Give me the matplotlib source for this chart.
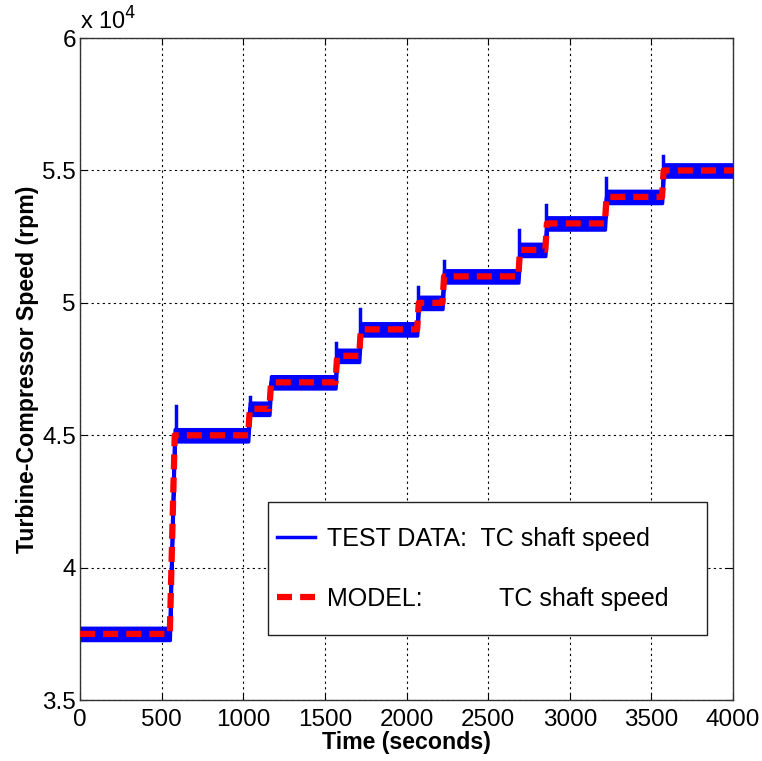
import numpy as np
import matplotlib.pyplot as plt
from matplotlib.ticker import FuncFormatter
from matplotlib.patches import Rectangle

plt.rcParams['font.family'] = ['Liberation Sans', 'DejaVu Sans']

# speed set-points (rpm) and the times (s) where each new level starts
step_start = [0, 550, 1030, 1160, 1565, 1710, 2065, 2220, 2685, 2850, 3215, 3565]
step_level = [37500, 45000, 46000, 47000, 48000, 49000, 50000, 51000, 52000, 53000, 54000, 55000]
ramp_first = 30   # s, the big jump takes longer
ramp_other = 10

# measured overshoot spikes right after each step (time s, peak rpm)
spike_time = [590, 1040, 1570, 1715, 2070, 2230, 2690, 2855, 3222, 3572]
spike_peak = [46100, 46450, 48500, 49750, 50600, 51600, 52750, 53700, 54700, 55550]
# half width of the measured noise band (rpm)
noise_half = 230

t_end = 4000

# build the model step trace
mt, mv = [step_start[0]], [step_level[0]]
for i in range(1, len(step_start)):
    r = ramp_first if i == 1 else ramp_other
    mt += [step_start[i], step_start[i] + r]
    mv += [step_level[i - 1], step_level[i]]
mt.append(t_end)
mv.append(step_level[-1])
mt = np.array(mt, float)
mv = np.array(mv, float)

fig = plt.figure(figsize=(7.62, 7.61), dpi=100)
ax = fig.add_axes([0.105, 0.080, 0.857, 0.870])

# test data: noise band around the levels plus the spikes
ax.fill_between(mt, mv - noise_half, mv + noise_half, color='#0000ff', lw=2.5,
                edgecolor='#0000ff', zorder=2)
for st, sp in zip(spike_time, spike_peak):
    lvl = np.interp(st, mt, mv)
    ax.plot([st, st], [lvl, sp], color='#0000ff', lw=2.5, zorder=2)
ax.plot(mt, mv, color='#0000ff', lw=2.5, zorder=2, label='TEST DATA:  TC shaft speed')

ax.plot(mt, mv, color='#ff0000', lw=4.5, dashes=(2.4, 1.3), zorder=3,
        label='MODEL:           TC shaft speed')

ax.set_xlim(0, 4000)
ax.set_ylim(35000, 60000)
ax.set_xticks(np.arange(0, 4001, 500))
ax.set_yticks(np.arange(35000, 60001, 5000))
ax.yaxis.set_major_formatter(FuncFormatter(lambda v, p: '%g' % (v / 1e4)))
ax.tick_params(direction='in', labelsize=17.5, length=5, width=0.8, top=True, right=True, pad=3)
ax.tick_params(axis='x', pad=6.5)
ax.grid(True, color='black', linestyle=(0, (2, 3)), linewidth=0.8)
for s in ax.spines.values():
    s.set_linewidth(1.0)
    s.set_color('#333333')

ax.text(0.0, 1.005, r'x 10$^4$', transform=ax.transAxes, fontsize=17, ha='left', va='bottom')
ax.set_xlabel('Time (seconds)', fontsize=16.7, fontweight='bold', labelpad=0)
ax.set_ylabel('Turbine-Compressor Speed (rpm)', fontsize=16.7, fontweight='bold', labelpad=2)

# legend box drawn separately so the padding can differ in x and y
ax.add_patch(Rectangle((0.288, 0.098), 0.672, 0.201, transform=ax.transAxes, fill=True,
                       facecolor='white', edgecolor='#222222', lw=1.0, zorder=5))
leg = ax.legend(loc='center left', bbox_to_anchor=(0.302, 0.198), frameon=False,
                fontsize=18, handlelength=1.52, handletextpad=0.48, labelspacing=1.45,
                borderpad=0, borderaxespad=0)
leg.set_zorder(6)

fig.savefig('out.png', dpi=100)
